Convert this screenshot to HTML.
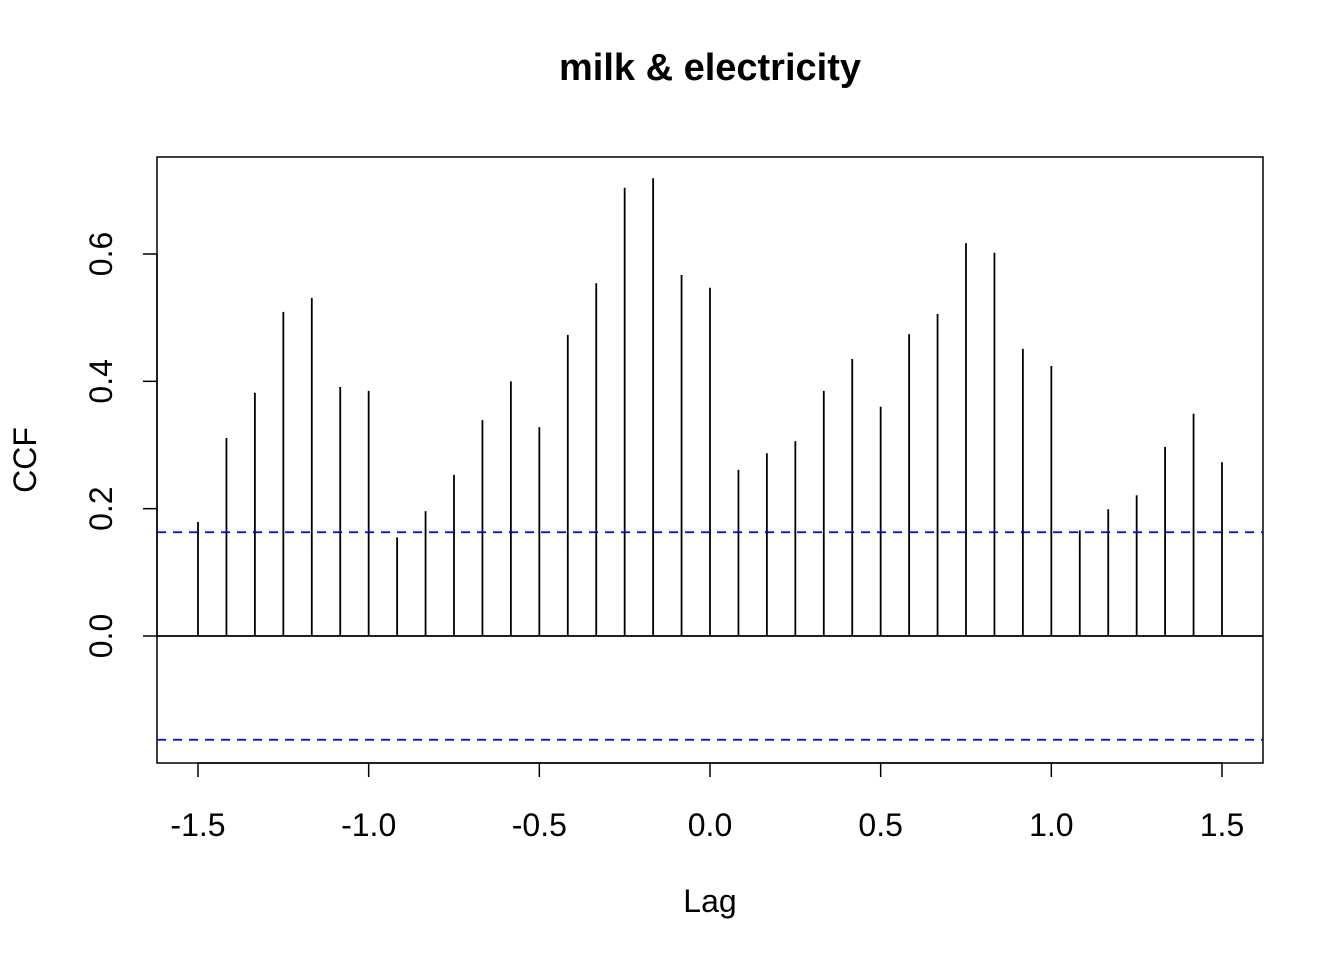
<!DOCTYPE html>
<html><head><meta charset="utf-8"><style>
html,body{margin:0;padding:0;background:#fff;}
svg{display:block;font-family:"Liberation Sans",Arial,sans-serif;}
</style></head><body>
<svg id="chart" width="1344" height="960" viewBox="0 0 1344 960" xmlns="http://www.w3.org/2000/svg">
<text x="710" y="80" text-anchor="middle" font-size="38" font-weight="bold">milk &amp; electricity</text>
<rect x="157" y="157" width="1106" height="606" fill="none" stroke="#000" stroke-width="1.5"/>
<text x="710" y="912" text-anchor="middle" font-size="32">Lag</text>
<text transform="translate(36,460) rotate(-90)" text-anchor="middle" font-size="32">CCF</text>
<g id="xaxis"></g><g id="yaxis"></g><g id="bars"></g><g id="bands"></g>
</svg>
<script>
const lags = [];
for (let i = -18; i <= 18; i++) lags.push(i / 12);
const ccfValues = [0.179,0.311,0.382,0.509,0.531,0.391,0.385,0.155,0.196,0.253,0.339,0.400,0.328,0.473,0.554,0.704,0.719,0.567,0.547,0.261,0.287,0.306,0.385,0.435,0.360,0.474,0.506,0.617,0.602,0.451,0.424,0.166,0.199,0.221,0.297,0.349,0.273];
const confLimit = 0.163;
const xTicks = [-1.5,-1.0,-0.5,0.0,0.5,1.0,1.5];
const xTickLabels = ["-1.5","-1.0","-0.5","0.0","0.5","1.0","1.5"];
const yTicks = [0.0,0.2,0.4,0.6];
const yTickLabels = ["0.0","0.2","0.4","0.6"];

const NS = "http://www.w3.org/2000/svg";
const xs = v => 710 + v * 341.33;
const ys = v => 636 - v * 636.67;
function mk(tag, attrs, parent) {
  const e = document.createElementNS(NS, tag);
  for (const k in attrs) e.setAttribute(k, attrs[k]);
  parent.appendChild(e);
  return e;
}
const gx = document.getElementById('xaxis'), gy = document.getElementById('yaxis');
const gb = document.getElementById('bars'), gc = document.getElementById('bands');
let l = mk('line', {x1: xs(xTicks[0]), x2: xs(xTicks[xTicks.length-1]), y1: 763, y2: 763, stroke: '#000', 'stroke-width': 1.5}, gx);


xTicks.forEach((t, i) => {
  const tk = mk('line', {x1: xs(t), x2: xs(t), y1: 763, y2: 777, stroke: '#000', 'stroke-width': 1.5}, gx);
  
  
  const tx = mk('text', {x: xs(t), y: 836, 'text-anchor': 'middle', 'font-size': 32}, gx);
  tx.textContent = xTickLabels[i];
  
  
});
l = mk('line', {x1: 157, x2: 157, y1: ys(yTicks[0]), y2: ys(yTicks[yTicks.length-1]), stroke: '#000', 'stroke-width': 1.5}, gy);


yTicks.forEach((t, i) => {
  const tk = mk('line', {x1: 143, x2: 157, y1: ys(t), y2: ys(t), stroke: '#000', 'stroke-width': 1.5}, gy);
  
  
  const tx = mk('text', {transform: `translate(112,${ys(t)}) rotate(-90)`, 'text-anchor': 'middle', 'font-size': 32}, gy);
  tx.textContent = yTickLabels[i];
  
  
});
l = mk('line', {x1: 157, x2: 1263, y1: ys(0), y2: ys(0), stroke: '#000', 'stroke-width': 1.8}, gb);


lags.forEach((lag, i) => {
  const b = mk('line', {x1: xs(lag), x2: xs(lag), y1: ys(0), y2: ys(ccfValues[i]), stroke: '#000', 'stroke-width': 1.8}, gb);
  
  
});
[confLimit, -confLimit].forEach(c => {
  const d = mk('line', {x1: 157, x2: 1263, y1: ys(c), y2: ys(c), stroke: '#0000ff', 'stroke-width': 1.8, 'stroke-dasharray': '9,7'}, gc);
  
  
});
</script>
</body></html>
